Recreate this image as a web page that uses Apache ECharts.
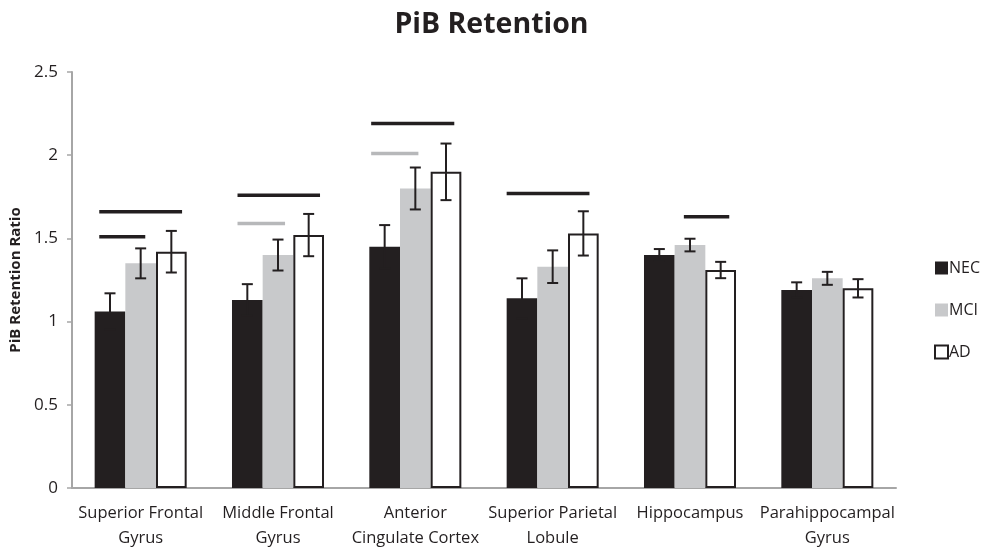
<!DOCTYPE html>
<html>
<head>
<meta charset="utf-8">
<script src="https://cdn.jsdelivr.net/npm/echarts@6/dist/echarts.min.js"></script>
<style>
  html, body { margin: 0; padding: 0; background: #fff; }
  #chart { width: 983px; height: 552px; }
</style>
</head>
<body>
<div id="chart"></div>
<script>
// regions on the x axis
const regions = [
  'Superior Frontal\nGyrus',
  'Middle Frontal\nGyrus',
  'Anterior\nCingulate Cortex',
  'Superior Parietal\nLobule',
  'Hippocampus',
  'Parahippocampal\nGyrus'
];
const groups = ['NEC', 'MCI', 'AD'];

// mean PiB retention ratio
const necMean = [1.06, 1.13, 1.45, 1.14, 1.40, 1.19];
const mciMean = [1.35, 1.40, 1.80, 1.33, 1.46, 1.26];
const adMean  = [1.42, 1.52, 1.90, 1.53, 1.31, 1.20];

// error bar half widths
const necErr = [0.11, 0.095, 0.13, 0.12, 0.036, 0.046];
const mciErr = [0.09, 0.093, 0.126, 0.098, 0.038, 0.039];
const adErr  = [0.125, 0.127, 0.17, 0.133, 0.049, 0.055];

// significance bars: [region index, y value, from, to] (from/to in bar widths across the group)
const blackLines = [
  [0, 1.66, 0.15, 2.85],
  [0, 1.51, 0.15, 1.65],
  [1, 1.76, 0.18, 2.87],
  [2, 2.19, 0.06, 2.77],
  [3, 1.77, 0.0, 2.7],
  [4, 1.63, 1.3, 2.78]
];
const grayLines = [
  [1, 1.59, 0.18, 1.73],
  [2, 2.01, 0.06, 1.6]
];

const yTicks = [0, 0.5, 1, 1.5, 2, 2.5];

const INK = '#231f20';
const GRAY = '#c8c9cb';
const GAP = 0.33;

const chart = echarts.init(document.getElementById('chart'));

function barWidthOf(api) {
  const band = api.size([1, 0])[0];
  return band * (1 - GAP) / 3;
}

function errorSeries(idx, means, errs) {
  return {
    type: 'custom',
    name: groups[idx] + ' err',
    z: 5,
    silent: true,
    data: means.map((m, i) => [i, m - errs[i], m + errs[i]]),
    renderItem: function (params, api) {
      const bw = barWidthOf(api);
      const lo = api.coord([api.value(0), api.value(1)]);
      const hi = api.coord([api.value(0), api.value(2)]);
      const x = lo[0] + (idx - 1) * bw;
      const cap = 5.5;
      const style = { stroke: INK, lineWidth: 2 };
      return {
        type: 'group',
        children: [
          { type: 'line', shape: { x1: x, y1: lo[1], x2: x, y2: hi[1] }, style: style },
          { type: 'line', shape: { x1: x - cap, y1: lo[1], x2: x + cap, y2: lo[1] }, style: style },
          { type: 'line', shape: { x1: x - cap, y1: hi[1], x2: x + cap, y2: hi[1] }, style: style }
        ]
      };
    }
  };
}

function sigSeries(name, lines, color) {
  return {
    type: 'custom',
    name: name,
    z: 5,
    silent: true,
    data: lines,
    renderItem: function (params, api) {
      const bw = barWidthOf(api);
      const c = api.coord([api.value(0), api.value(1)]);
      const left = c[0] - 1.5 * bw;
      return {
        type: 'line',
        shape: { x1: left + api.value(2) * bw, y1: c[1], x2: left + api.value(3) * bw, y2: c[1] },
        style: { stroke: color, lineWidth: 3.5 }
      };
    }
  };
}

const font = '"Open Sans", "DejaVu Sans", sans-serif';

chart.setOption({
  animation: false,
  backgroundColor: '#fff',
  textStyle: { fontFamily: font, color: INK },
  title: {
    text: 'PiB Retention',
    left: 'center',
    top: 5,
    textStyle: { fontFamily: font, fontSize: 28.5, fontWeight: 'bold', color: INK }
  },
  legend: {
    orient: 'vertical',
    left: 929,
    top: 255,
    itemWidth: 13,
    itemHeight: 13,
    itemGap: 26,
    icon: 'rect',
    data: groups,
    textStyle: { fontFamily: font, fontSize: 16, color: INK, padding: [0, 0, 0, -4] }
  },
  grid: { left: 71, right: 87, top: 72, bottom: 64 },
  xAxis: {
    type: 'category',
    data: regions,
    axisLine: { lineStyle: { color: '#a6a6a6', width: 2 } },
    axisTick: { show: false },
    axisLabel: { fontFamily: font, fontSize: 16.5, color: INK, lineHeight: 25, margin: 13, interval: 0 }
  },
  yAxis: {
    type: 'value',
    min: 0,
    max: 2.5,
    interval: 0.5,
    name: 'PiB Retention Ratio',
    nameLocation: 'middle',
    nameGap: 49,
    nameTextStyle: { fontFamily: font, fontSize: 15, fontWeight: 'bold', color: INK },
    splitLine: { show: false },
    axisLine: { show: true, lineStyle: { color: '#a6a6a6', width: 2 } },
    axisTick: { show: true, inside: false, length: 5, lineStyle: { color: '#a6a6a6', width: 1.5 } },
    axisLabel: {
      fontFamily: font, fontSize: 17, color: INK, margin: 14,
      formatter: v => yTicks.includes(v) ? String(v) : ''
    }
  },
  series: [
    {
      name: 'NEC', type: 'bar', data: necMean,
      barGap: '0%', barCategoryGap: '33%',
      itemStyle: { color: INK }
    },
    {
      name: 'MCI', type: 'bar', data: mciMean,
      barGap: '0%', barCategoryGap: '33%',
      itemStyle: { color: GRAY }
    },
    {
      name: 'AD', type: 'bar', data: adMean,
      barGap: '0%', barCategoryGap: '33%',
      itemStyle: { color: '#ffffff', borderColor: INK, borderWidth: 2 }
    },
    errorSeries(0, necMean, necErr),
    errorSeries(1, mciMean, mciErr),
    errorSeries(2, adMean, adErr),
    sigSeries('sig black', blackLines, INK),
    sigSeries('sig gray', grayLines, '#b7b8ba')
  ]
});
</script>
</body>
</html>
